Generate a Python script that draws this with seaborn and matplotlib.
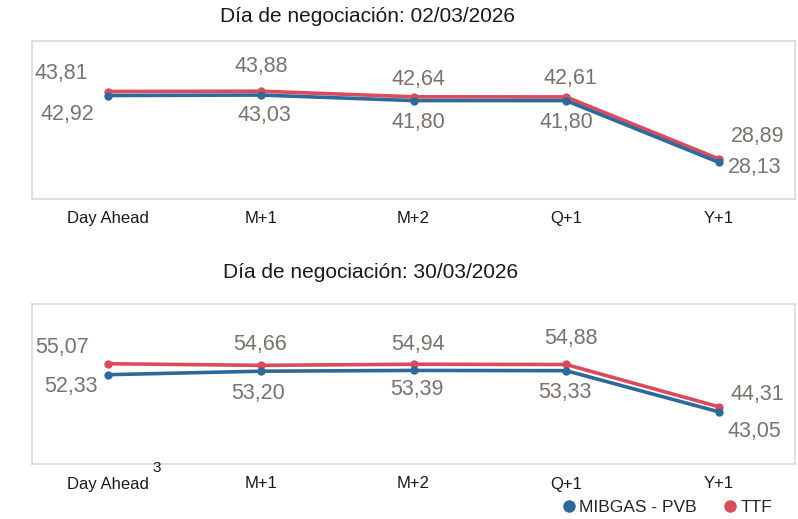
import matplotlib
matplotlib.use("Agg")
import matplotlib.pyplot as plt
from matplotlib.lines import Line2D
import seaborn as sns
import pandas as pd

# ---- data ----
products = ["Day Ahead", "M+1", "M+2", "Q+1", "Y+1"]
titles = ["Día de negociación: 02/03/2026", "Día de negociación: 30/03/2026"]
series_names = ["MIBGAS - PVB", "TTF"]
mibgas_1 = [42.92, 43.03, 41.80, 41.80, 28.13]
ttf_1 = [43.81, 43.88, 42.64, 42.61, 28.89]
mibgas_2 = [52.33, 53.20, 53.39, 53.33, 43.05]
ttf_2 = [55.07, 54.66, 54.94, 54.88, 44.31]

# ---- style / layout ----
sns.set_theme(style="white")
plt.rcParams["font.family"] = ["Liberation Sans", "DejaVu Sans"]
colors = {"MIBGAS - PVB": "#2d6a9c", "TTF": "#dc4a5c"}
label_color = "#7a726c"
ylims = [(20, 55), (30, 70)]
# label offsets in pixels (dx, dy; dy positive = down)
offs = [
    {"TTF": [(-47, -18), (0, -25), (5, -17), (4, -18), (39, -22)],
     "MIBGAS - PVB": [(-41, 19), (3, 20), (5, 22), (0, 22), (36, 5)]},
    {"TTF": [(-46, -16), (-1, -21), (4, -20), (5, -26), (39, -12)],
     "MIBGAS - PVB": [(-37, 12), (-3, 22), (3, 19), (-1, 22), (36, 20)]},
]

fig = plt.figure(figsize=(7.98, 5.19), dpi=100)
W, H = 798, 519
boxes = [(32, 41, 795, 199), (32, 304, 795, 464)]
title_pos = [(368, 17), (371, 273)]

panels = [(mibgas_1, ttf_1), (mibgas_2, ttf_2)]
for i, (mib, ttf) in enumerate(panels):
    x0, y0, x1, y1 = boxes[i]
    ax = fig.add_axes([x0 / W, 1 - y1 / H, (x1 - x0) / W, (y1 - y0) / H])
    df = pd.DataFrame({
        "product": products * 2,
        "pos": list(range(len(products))) * 2,
        "value": ttf + mib,
        "series": ["TTF"] * len(products) + ["MIBGAS - PVB"] * len(products),
    })
    sns.lineplot(data=df, x="pos", y="value", hue="series",
                 hue_order=["TTF", "MIBGAS - PVB"], palette=colors,
                 marker="o", markersize=6, markeredgewidth=0, linewidth=2.6,
                 legend=False, ax=ax)
    for name, vals in [("TTF", ttf), ("MIBGAS - PVB", mib)]:
        for j, v in enumerate(vals):
            dx, dy = offs[i][name][j]
            ax.annotate(f"{v:.2f}".replace(".", ","), (j, v),
                        xytext=(dx, -dy), textcoords="offset pixels",
                        ha="center", va="center", fontsize=15.5,
                        color=label_color)
    ax.set_xlim(-0.5, len(products) - 0.5)
    ax.set_ylim(*ylims[i])
    ax.set_xticks(range(len(products)))
    ax.set_xticklabels(products)
    ax.set_yticks([])
    ax.set_xlabel("")
    ax.set_ylabel("")
    ax.tick_params(axis="x", length=0, pad=9, labelsize=12, labelcolor="#1a1a1a")
    for s in ax.spines.values():
        s.set_color("#d9d9d9")
        s.set_linewidth(1.2)
    tx, ty = title_pos[i]
    fig.text(tx / W, 1 - ty / H, titles[i], ha="center", va="center",
             fontsize=15, color="#1a1a1a")

fig.text(157 / W, 1 - 468 / H, "3", ha="center", va="center", fontsize=11,
         color="#1a1a1a")

handles = [Line2D([], [], marker="o", linestyle="none", markersize=9,
                  markeredgewidth=0, color=colors[n]) for n in series_names]
fig.legend(handles, series_names, loc="center", ncol=2, frameon=False,
           bbox_to_anchor=(666 / W, 1 - 507 / H), handletextpad=0.1,
           columnspacing=1.4, handlelength=1.0, fontsize=12.5)

fig.savefig("out.png", dpi=100)
